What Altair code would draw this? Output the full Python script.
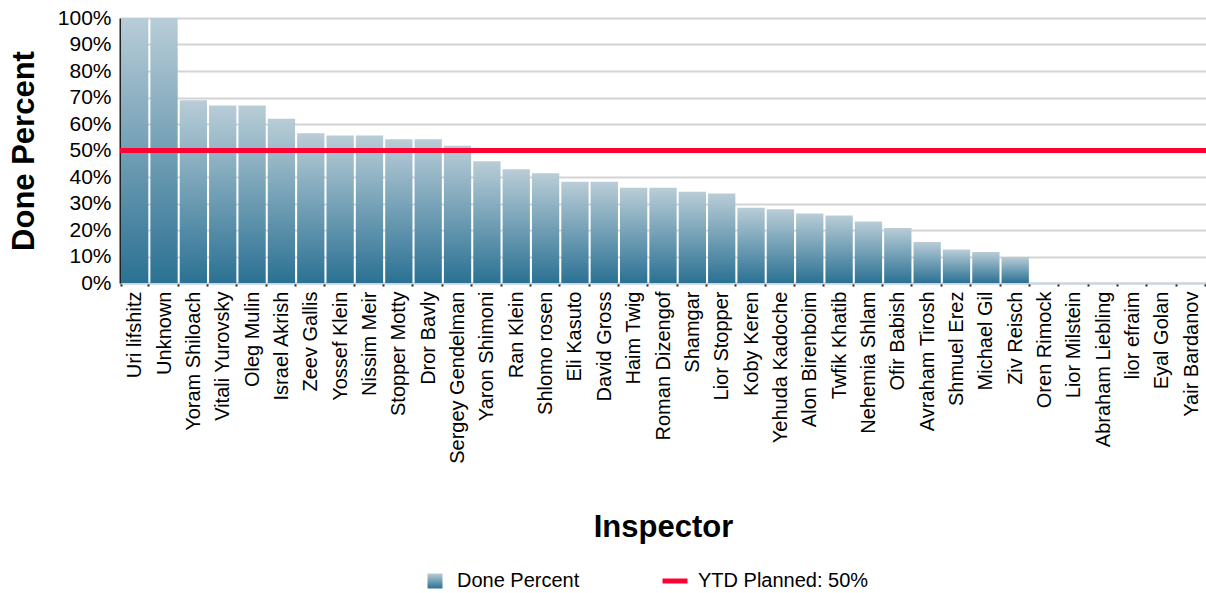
import altair as alt
import pandas as pd

inspectors = [
    "Uri lifshitz", "Unknown", "Yoram Shiloach", "Vitali Yurovsky", "Oleg Mulin",
    "Israel Akrish", "Zeev Gallis", "Yossef Klein", "Nissim Meir", "Stopper Motty",
    "Dror Bavly", "Sergey Gendelman", "Yaron Shimoni", "Ran Klein", "Shlomo rosen",
    "Eli Kasuto", "David Gross", "Haim Twig", "Roman Dizengof", "Shamgar",
    "Lior Stopper", "Koby Keren", "Yehuda Kadoche", "Alon Birenboim", "Twfik Khatib",
    "Nehemia Shlam", "Ofir Babish", "Avraham Tirosh", "Shmuel Erez", "Michael Gil",
    "Ziv Reisch", "Oren Rimock", "Lior Milstein", "Abraham Liebling", "lior efraim",
    "Eyal Golan", "Yair Bardanov",
]
done_percent = [
    100, 100, 69, 67, 67,
    62, 56.5, 55.7, 55.7, 54.2,
    54.2, 51.8, 45.9, 42.9, 41.4,
    38.2, 38.2, 35.9, 35.9, 34.4,
    33.8, 28.4, 27.8, 26.2, 25.5,
    23.2, 20.8, 15.5, 12.6, 11.7,
    9.8, 0, 0, 0, 0,
    0, 0,
]
planned = [50]
y_ticks = [0, 10, 20, 30, 40, 50, 60, 70, 80, 90, 100]
bar_series = "Done Percent"
line_series = "YTD Planned: 50%"

FONT = "Liberation Sans"

df = pd.DataFrame({"inspector": inspectors, "done": done_percent, "series": bar_series})
rule_df = pd.DataFrame({"done": planned, "series": [line_series]})

grad = alt.Gradient(
    gradient="linear",
    stops=[alt.GradientStop(color="#b9cdd7", offset=0),
           alt.GradientStop(color="#2b7193", offset=1)],
    x1=0, x2=0, y1=0, y2=1,
)

y_axis = alt.Axis(
    title="Done Percent", titleFont=FONT, titleFontSize=31, titleFontWeight="bold",
    titleColor="#000", titleX=-96, titleBaseline="middle",
    values=y_ticks, labelExpr="datum.value + '%'",
    labelFont=FONT, labelFontSize=21, labelColor="#000", labelPadding=9,
    labelOverlap=False, labelFlush=False,
    ticks=False, domainColor="#222", domainWidth=2,
    gridColor="#d4d4d4", gridWidth=2,
)
y_scale = alt.Scale(domain=[0, 100], nice=False)

bars = alt.Chart(df).mark_bar(fill=grad).encode(
    x=alt.X(
        "inspector:N", sort=inspectors,
        scale=alt.Scale(paddingInner=0.07, paddingOuter=0.035),
        axis=alt.Axis(
            title="Inspector", titleFont=FONT, titleFontSize=31, titleFontWeight="bold",
            titleColor="#000", titleY=244, titleBaseline="middle",
            labelAngle=270, labelAlign="right", labelBaseline="middle",
            labelFont=FONT, labelFontSize=20, labelColor="#000", labelPadding=5,
            labelOverlap=False, labelLimit=300,
            tickBand="extent", tickSize=3, tickColor="#222", tickWidth=2,
            domainColor="#c5d8e2", domainWidth=2, grid=False,
        ),
    ),
    y=alt.Y("done:Q", scale=y_scale, axis=y_axis),
    opacity=alt.Opacity(
        "series:N", scale=alt.Scale(domain=[bar_series], range=[1]),
        legend=alt.Legend(
            title=None, orient="none", legendX=305, legendY=553,
            symbolType="square", symbolSize=225, symbolFillColor="#5f93ad",
            symbolStrokeWidth=0, labelFont=FONT, labelFontSize=20,
            labelColor="#000", labelOffset=12, labelLimit=300,
        ),
    ),
)

rule = alt.Chart(rule_df).mark_rule(strokeWidth=5).encode(
    y=alt.Y("done:Q", scale=y_scale, axis=y_axis),
    stroke=alt.Stroke(
        "series:N", scale=alt.Scale(domain=[line_series], range=["#ff0033"]),
        legend=alt.Legend(
            title=None, orient="none", legendX=540, legendY=548,
            symbolType="stroke", symbolSize=625, symbolStrokeWidth=5,
            labelFont=FONT, labelFontSize=20, labelColor="#000", labelOffset=8,
            labelLimit=300,
        ),
    ),
)

chart = alt.layer(bars, rule).properties(
    width=1086, height=265,
    autosize=alt.AutoSizeParams(type="none"),
    padding={"left": 120, "top": 18, "right": 0, "bottom": 310},
).configure_view(stroke=None).configure(background="white")

chart.save("out.html", embed_options={"renderer": "svg", "actions": False})
